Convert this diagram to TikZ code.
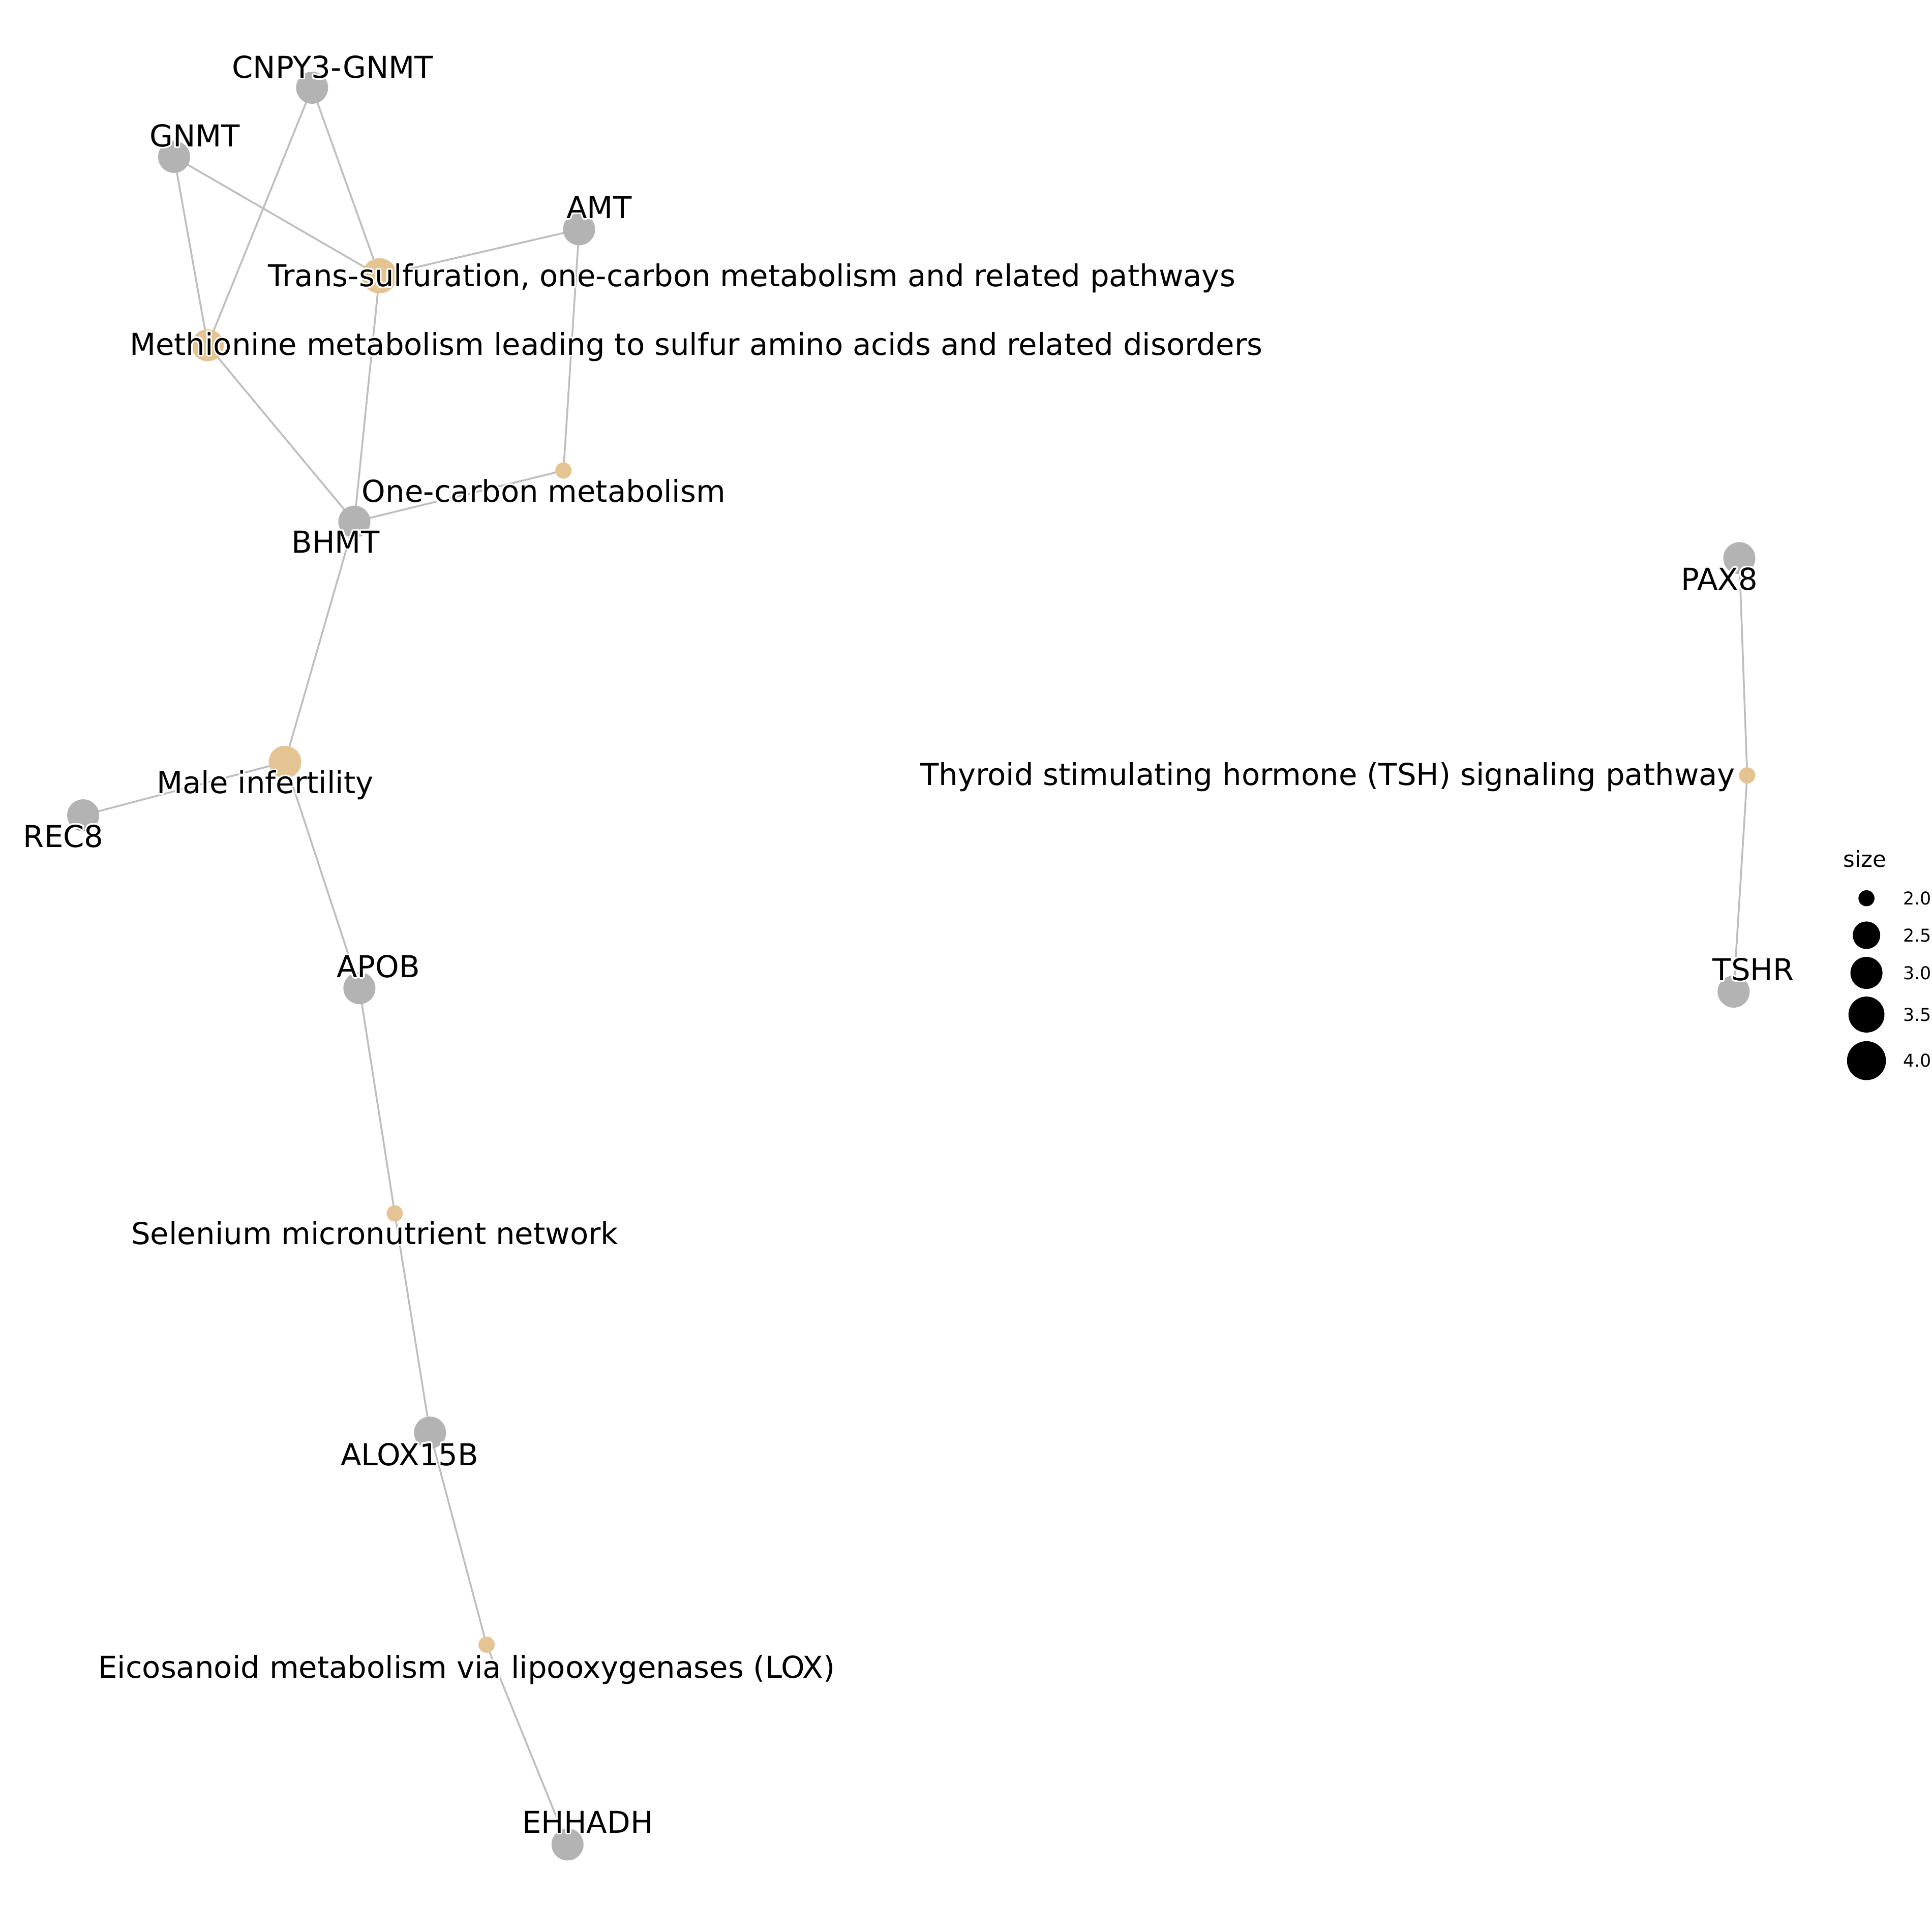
\documentclass[tikz,border=0pt]{standalone}
\usepackage{fontspec}
\setmainfont{DejaVu Sans}
\usepackage{contour}
\contourlength{0.9pt}
\contournumber{24}
\usetikzlibrary{backgrounds}
\definecolor{genegray}{HTML}{B3B3B3}
\definecolor{pathtan}{HTML}{E5C494}
\definecolor{edgegray}{HTML}{BEBEBE}
\newcommand{\halo}[1]{\contour{white}{#1}}
\tikzset{
  edge/.style={draw=edgegray, line width=1.05pt},
  dot/.style={circle, inner sep=0pt, outer sep=0pt, draw=none},
  gene/.style={dot, fill=genegray, minimum size=0.65cm},
  pathway/.style={dot, fill=pathtan},
  lbl/.style={inner sep=0pt, text=black, font=\fontsize{17.4}{20}\selectfont},
  legdot/.style={dot, fill=black},
  legtext/.style={inner sep=0pt, text=black, font=\fontsize{10.2}{12}\selectfont},
}
\begin{document}
\begin{tikzpicture}[x=0.025cm, y=-0.025cm]
\useasboundingbox (0,0) rectangle (1568,1568);

% gene nodes
\node[gene] (cnpy) at (253.3,71.2) {};
\node[gene] (gnmt) at (141.3,127.3) {};
\node[gene] (amt) at (470,186.1) {};
\node[gene] (bhmt) at (287.6,423.4) {};
\node[gene] (rec) at (67.5,661.7) {};
\node[gene] (apob) at (291.7,802) {};
\node[gene] (alox) at (349,1162.7) {};
\node[gene] (ehhadh) at (460.6,1496.9) {};
\node[gene] (pax) at (1411.6,453) {};
\node[gene] (tshr) at (1407,804.8) {};

% pathway nodes
\node[pathway, minimum size=0.7125cm] (trans) at (308,223.8) {};
\node[pathway, minimum size=0.65cm] (meth) at (168.6,280.2) {};
\node[pathway, minimum size=0.33cm] (onec) at (457.3,381.9) {};
\node[pathway, minimum size=0.66cm] (male) at (231.3,618.4) {};
\node[pathway, minimum size=0.33cm] (sel) at (320.4,984.8) {};
\node[pathway, minimum size=0.33cm] (eico) at (394.9,1334.8) {};
\node[pathway, minimum size=0.33cm] (tsh) at (1418,629.3) {};

% white page and connectors behind the nodes
\begin{scope}[on background layer]
\fill[white] (0,0) rectangle (1568,1568);
\draw[edge] (cnpy.center) -- (trans.center);
\draw[edge] (cnpy.center) -- (meth.center);
\draw[edge] (gnmt.center) -- (trans.center);
\draw[edge] (gnmt.center) -- (meth.center);
\draw[edge] (amt.center) -- (trans.center);
\draw[edge] (amt.center) -- (onec.center);
\draw[edge] (trans.center) -- (bhmt.center);
\draw[edge] (meth.center) -- (bhmt.center);
\draw[edge] (bhmt.center) -- (onec.center);
\draw[edge] (bhmt.center) -- (male.center);
\draw[edge] (male.center) -- (rec.center);
\draw[edge] (male.center) -- (apob.center);
\draw[edge] (apob.center) -- (sel.center);
\draw[edge] (sel.center) -- (alox.center);
\draw[edge] (alox.center) -- (eico.center);
\draw[edge] (eico.center) -- (ehhadh.center);
\draw[edge] (pax.center) -- (tsh.center);
\draw[edge] (tsh.center) -- (tshr.center);
\end{scope}

% labels
\node[lbl, anchor=base] (lcnpy) at (269.9,63.5) {\halo{CNPY3-GNMT}};
\node[lbl, anchor=base] (lgnmt) at (158,119.1) {\halo{GNMT}};
\node[lbl, anchor=base] (lamt) at (486.2,177.1) {\halo{AMT}};
\node[lbl, anchor=base] (ltrans) at (610.2,232.5) {\halo{Trans-sulfuration, one-carbon metabolism and related pathways}};
\node[lbl, anchor=base] (lmeth) at (564.9,288.1) {\halo{Methionine metabolism leading to sulfur amino acids and related disorders}};
\node[lbl, anchor=base] (lonec) at (441.3,407.6) {\halo{One-carbon metabolism}};
\node[lbl, anchor=base] (lbhmt) at (272.3,448.6) {\halo{BHMT}};
\node[lbl, anchor=base] (lmale) at (215.2,644) {\halo{Male infertility}};
\node[lbl, anchor=base] (lrec) at (51.5,687.5) {\halo{REC8}};
\node[lbl, anchor=base] (lapob) at (307.1,793.2) {\halo{APOB}};
\node[lbl, anchor=base] (lsel) at (304.2,1009.8) {\halo{Selenium micronutrient network}};
\node[lbl, anchor=base] (lalox) at (332.4,1189.2) {\halo{ALOX15B}};
\node[lbl, anchor=base] (leico) at (378.7,1361.7) {\halo{Eicosanoid metabolism via lipooxygenases (LOX)}};
\node[lbl, anchor=base] (lehhadh) at (477,1487.7) {\halo{EHHADH}};
\node[lbl, anchor=base] (lpax) at (1395.3,478.9) {\halo{PAX8}};
\node[lbl, anchor=base east] (ltsh) at (1408.5,637.5) {\halo{Thyroid stimulating hormone (TSH) signaling pathway}};
\node[lbl, anchor=base] (ltshr) at (1423,795.7) {\halo{TSHR}};

% size legend
\node[inner sep=0pt, anchor=base, font=\fontsize{12.8}{15}\selectfont] (legtitle) at (1513.5,703.6) {size};
\node[legdot, minimum size=0.325cm] (k1) at (1514.8,729) {};
\node[legdot, minimum size=0.5575cm] (k2) at (1514.8,759) {};
\node[legdot, minimum size=0.65cm] (k3) at (1514.8,789.6) {};
\node[legdot, minimum size=0.73cm] (k4) at (1514.8,823.4) {};
\node[legdot, minimum size=0.79cm] (k5) at (1514.8,860.8) {};
\node[legtext, anchor=base west] (t1) at (1544.5,734.2) {2.0};
\node[legtext, anchor=base west] (t2) at (1544.5,764.2) {2.5};
\node[legtext, anchor=base west] (t3) at (1544.5,794.8) {3.0};
\node[legtext, anchor=base west] (t4) at (1544.5,828.6) {3.5};
\node[legtext, anchor=base west] (t5) at (1544.5,866) {4.0};
\end{tikzpicture}
\end{document}
